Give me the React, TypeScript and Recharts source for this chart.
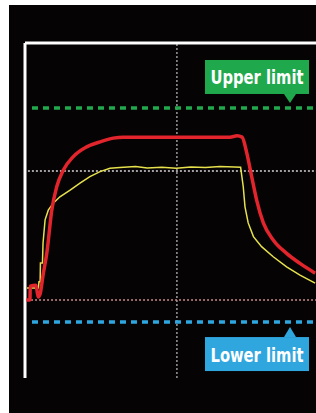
import { Line, LineChart, ReferenceLine, XAxis, YAxis } from "recharts";

// time axis is 0..100 (arbitrary units), signal axis 0..100 (% of full scale)
const RED_T = [0.5, 1.7, 1.8, 3.8, 4.5, 5.2, 6.2, 7.5, 9.2, 10.9, 13.2, 16.6, 21.2, 25.8, 30.3, 33.8, 50, 70.4, 72.9, 74.6, 76.2, 77.9, 79.6, 81.9, 85.3, 89.9, 94.5, 99.7];
const RED_V = [23.3, 23.3, 27.4, 27.7, 24.2, 25.1, 30.7, 37.3, 50.1, 57.1, 62.1, 66.1, 69.0, 70.5, 71.6, 71.9, 71.9, 71.9, 72.3, 71.9, 67.2, 60.1, 53.1, 46.3, 41.2, 37.2, 34.2, 31.3];

const YEL_T = [0.7, 4.6, 4.8, 5.2, 5.3, 6.0, 6.2, 6.9, 8.0, 9.7, 12.0, 15.5, 18.9, 22.3, 25.8, 29.2, 32.6, 38, 42, 47, 52, 57, 62, 67, 72, 74.1, 75.0, 75.6, 76.7, 78.5, 81.3, 85.3, 89.9, 94.5, 99.7];
const YEL_V = [26.9, 26.9, 28.7, 28.7, 34.3, 34.3, 40.3, 47.2, 50.1, 52.2, 54.1, 56.1, 58.2, 60.1, 61.6, 62.6, 62.8, 63.1, 62.7, 62.9, 62.6, 63.0, 62.8, 63.1, 63.0, 62.9, 57.1, 51.1, 46.3, 42.2, 39.2, 36.2, 33.2, 30.7, 28.3];

const UPPER_LIMIT = 80.6;
const LOWER_LIMIT = 16.7;
const BASE_LEVEL = 23.3;
const MID_LEVEL = 61.8;
const MID_TIME = 52.2;

const redData = RED_T.map((t, i) => ({ t, v: RED_V[i] }));
const yellowData = YEL_T.map((t, i) => ({ t, v: YEL_V[i] }));

function LimitTag(props: any) {
  const { viewBox, text, color, below } = props;
  if (!viewBox) return null;
  const right = viewBox.x + viewBox.width;
  const ly = viewBox.y;
  const boxW = 104;
  const boxH = 34;
  const bx = right - 7 - boxW;
  const tipX = right - 26;
  const by = below ? ly + 15 : ly - 14 - boxH;
  const baseY = below ? by : by + boxH;
  const tipY = below ? ly + 5 : ly - 5;
  return (
    <g>
      <rect x={bx} y={by} width={boxW} height={boxH} fill={color} />
      <polygon points={`${tipX - 6},${baseY} ${tipX + 6},${baseY} ${tipX},${tipY}`} fill={color} />
      <text
        x={bx + boxW / 2}
        y={by + boxH / 2 + 7.5}
        textAnchor="middle"
        fill="#fff"
        fontSize={20}
        fontWeight={700}
        fontFamily="'Liberation Sans Narrow', 'DejaVu Sans Condensed', Roboto, sans-serif"
        textLength={93}
        lengthAdjust="spacingAndGlyphs"
      >
        {text}
      </text>
    </g>
  );
}

export default function App() {
  return (
    <div style={{ position: "absolute", left: 0, top: 0, width: 316, height: 413, background: "#fff", overflow: "hidden" }}>
      <div style={{ position: "absolute", left: 9, top: 5, width: 307, height: 408, background: "#050303" }} />
      <div style={{ position: "absolute", left: 0, top: 0 }}>
        <LineChart width={316} height={413} margin={{ top: 43, right: 0, bottom: 35, left: 25 }}>
          <XAxis type="number" dataKey="t" domain={[0, 100]} hide allowDataOverflow />
          <YAxis type="number" dataKey="v" domain={[0, 100]} hide allowDataOverflow />
          <ReferenceLine x={MID_TIME} stroke="#9a9a9a" strokeWidth={1.5} strokeDasharray="2 2" />
          <ReferenceLine
            segment={[{ x: 1, y: MID_LEVEL }, { x: 100, y: MID_LEVEL }]}
            stroke="#d6d2d6"
            strokeWidth={1.5}
            strokeDasharray="2 2"
          />
          <ReferenceLine
            segment={[{ x: 0.7, y: BASE_LEVEL }, { x: 100, y: BASE_LEVEL }]}
            stroke="#c98a8e"
            strokeWidth={1.5}
            strokeDasharray="2 2"
          />
          {/* white frame: left and top edge of the scope screen */}
          <ReferenceLine x={0} stroke="#fff" strokeWidth={3} />
          <ReferenceLine y={100} stroke="#fff" strokeWidth={3} />
          <Line
            data={yellowData}
            dataKey="v"
            type="linear"
            stroke="#e6e14c"
            strokeWidth={1.5}
            dot={false}
            isAnimationActive={false}
          />
          <Line
            data={redData}
            dataKey="v"
            type="monotone"
            stroke="#e2252c"
            strokeWidth={3.5}
            dot={false}
            isAnimationActive={false}
          />
          <ReferenceLine
            segment={[{ x: 2.4, y: UPPER_LIMIT }, { x: 100, y: UPPER_LIMIT }]}
            stroke="#22a94d"
            strokeWidth={3.5}
            strokeDasharray="6 5"
            label={<LimitTag text="Upper limit" color="#1fa84c" />}
          />
          <ReferenceLine
            segment={[{ x: 2.4, y: LOWER_LIMIT }, { x: 100, y: LOWER_LIMIT }]}
            stroke="#2ea6df"
            strokeWidth={3.5}
            strokeDasharray="6 5"
            label={<LimitTag text="Lower limit" color="#2fa6de" below />}
          />
        </LineChart>
      </div>
    </div>
  );
}
